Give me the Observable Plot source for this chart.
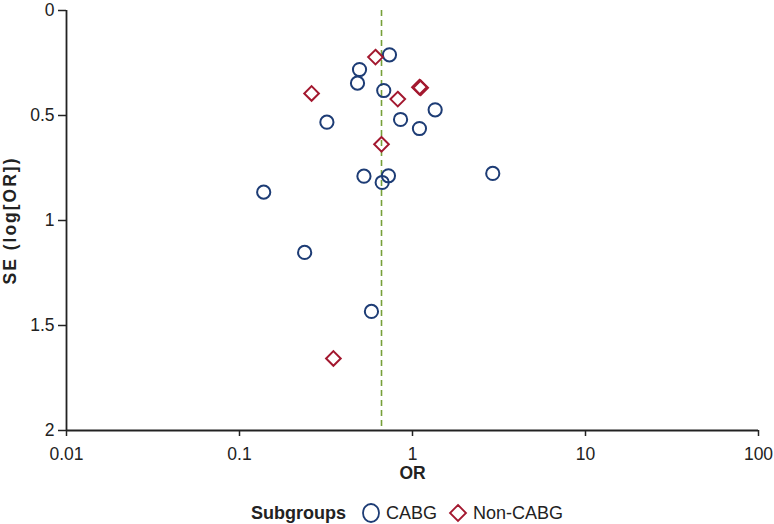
<!DOCTYPE html>
<html>
<head>
<meta charset="utf-8">
<script src="https://cdn.jsdelivr.net/npm/d3@7"></script>
<script src="https://cdn.jsdelivr.net/npm/@observablehq/plot@0.6"></script>
<style>
  html, body { margin: 0; padding: 0; background: #fff; }
  body { width: 774px; font-family: "Liberation Sans", Arial, sans-serif; }
  #chart svg text { font-size: 17.5px; }
  #legend { display: flex; justify-content: center; align-items: center; padding-left: 66px; padding-right: 16px; height: 30px; margin-top: 8px; font-size: 18px; color: #222; }
  #legend .title { font-weight: bold; margin-right: 14px; }
  #legend .item { display: flex; align-items: center; margin-right: 10px; }
  #legend svg { margin-right: 4px; }
</style>
</head>
<body>
<div id="chart"></div>
<div id="legend"></div>
<script>
// Study-level data
const cabgOR = [0.736, 0.494, 0.481, 0.682, 1.352, 0.320, 0.853, 1.097, 2.91, 0.524, 0.726, 0.668, 0.138, 0.238, 0.579];
const cabgSE = [0.211, 0.281, 0.346, 0.381, 0.473, 0.532, 0.519, 0.562, 0.776, 0.789, 0.787, 0.819, 0.865, 1.152, 1.433];
const nonCabgOR = [0.611, 1.097, 1.115, 0.261, 0.822, 0.662, 0.349];
const nonCabgSE = [0.222, 0.365, 0.368, 0.395, 0.422, 0.637, 1.657];
const pooledOR = 0.662;
const xTicks = [0.01, 0.1, 1, 10, 100];
const yTicks = [0, 0.5, 1, 1.5, 2];
const groups = ["CABG", "Non-CABG"];

const navy = "#1d3c75";
const red = "#a3182f";
const green = "#76a03a";

const data = [
  ...cabgOR.map((or, i) => ({or, se: cabgSE[i], group: groups[0]})),
  ...nonCabgOR.map((or, i) => ({or, se: nonCabgSE[i], group: groups[1]}))
];

const font = "Liberation Sans, Arial, sans-serif";

const chart = Plot.plot({
  width: 774,
  height: 490,
  marginLeft: 66,
  marginRight: 16,
  marginTop: 10,
  marginBottom: 60,
  style: {fontFamily: font, fontSize: "17.5px", color: "#222", background: "#fff"},
  x: {type: "log", domain: [0.01, 100]},
  y: {domain: [0, 2], reverse: true},
  symbol: {domain: groups, range: ["circle", "diamond2"]},
  marks: [
    Plot.ruleX([pooledOR], {stroke: green, strokeWidth: 1.6, strokeDasharray: "6,4"}),
    Plot.axisX(xTicks, {tickSize: 6, tickPadding: 11, tickFormat: d => String(d), label: null, stroke: "#222", strokeWidth: 1.5, fill: "#222"}),
    Plot.axisY(yTicks, {tickSize: 8, tickPadding: 4, tickFormat: d => String(d), label: null, stroke: "#222", strokeWidth: 1.5, fill: "#222"}),
    Plot.ruleX([0.01], {stroke: "#222", strokeWidth: 1.8}),
    Plot.ruleY([2], {stroke: "#222", strokeWidth: 1.8}),
    Plot.dot(data, {
      x: "or", y: "se", symbol: "group", r: 6.6,
      stroke: d => d.group === groups[0] ? navy : red,
      strokeWidth: 2, fill: "none"
    }),
    Plot.text(["OR"], {frameAnchor: "bottom", dy: 48, fontWeight: "bold", fill: "#222"}),
    Plot.text(["SE (log[OR])"], {frameAnchor: "left", textAnchor: "middle", dx: -56, rotate: -90, fontWeight: "bold", fill: "#222", className: "ylabel"})
  ]
});
document.getElementById("chart").appendChild(chart);
chart.querySelectorAll(".ylabel text").forEach(el => el.setAttribute("letter-spacing", "2px"));

// Legend
const legend = document.getElementById("legend");
const t = document.createElement("span");
t.className = "title";
t.textContent = "Subgroups";
legend.appendChild(t);
const shapes = [
  `<svg width="22" height="22"><ellipse cx="11" cy="11" rx="8" ry="9" fill="none" stroke="${navy}" stroke-width="1.8"/></svg>`,
  `<svg width="22" height="22"><path d="M11 3 L19 11 L11 19 L3 11 Z" fill="none" stroke="${red}" stroke-width="1.8"/></svg>`
];
groups.forEach((g, i) => {
  const item = document.createElement("span");
  item.className = "item";
  item.innerHTML = shapes[i] + `<span>${g}</span>`;
  legend.appendChild(item);
});
</script>
</body>
</html>
